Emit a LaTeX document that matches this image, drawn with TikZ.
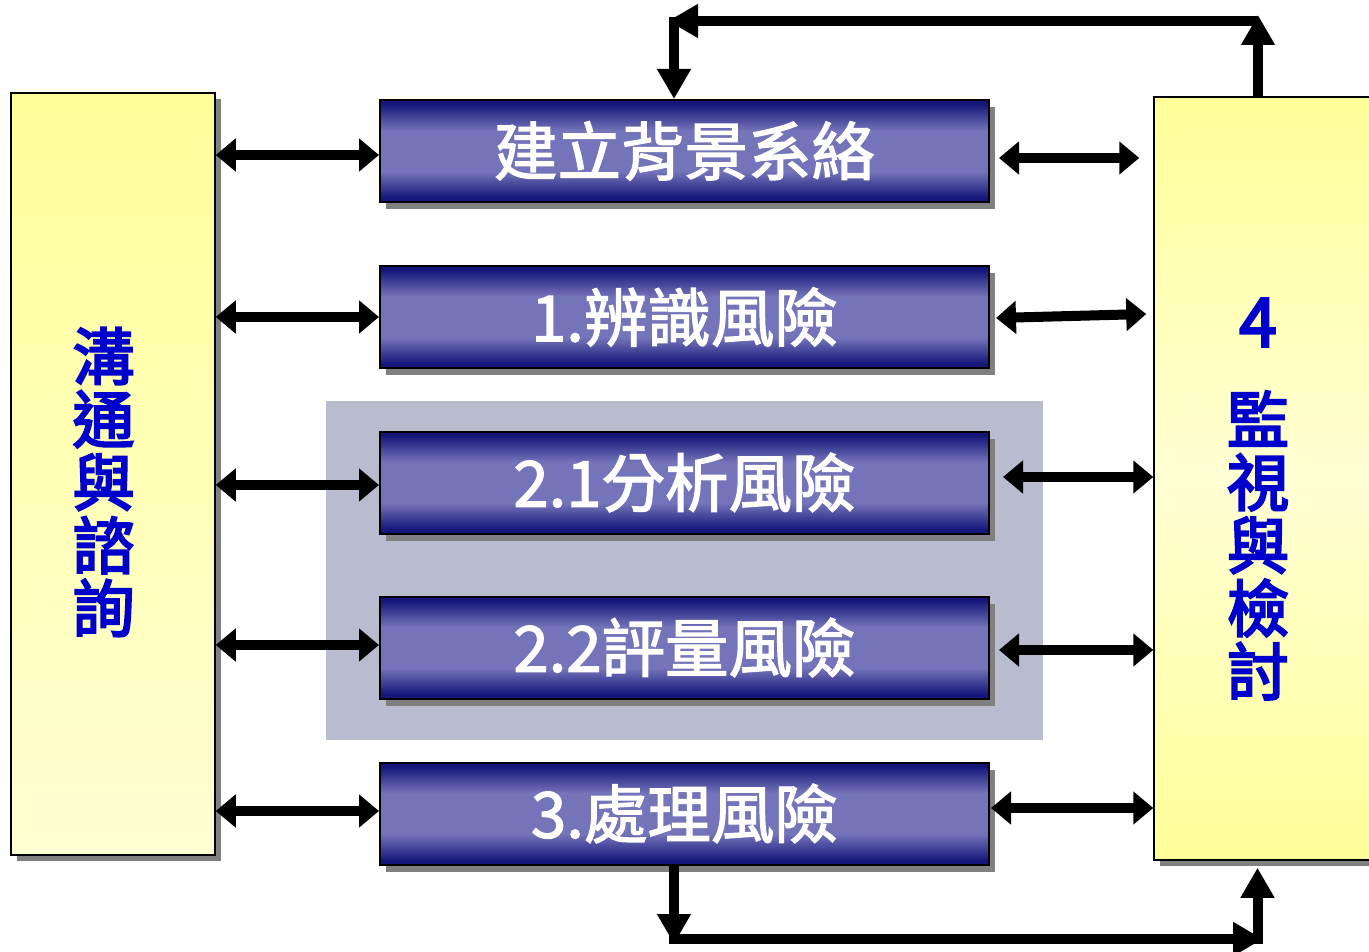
\documentclass[tikz,border=0pt]{standalone}
\usepackage{fontspec}
\setmainfont{Noto Sans CJK TC}
\newfontfamily\sidefont[FakeBold=3.5]{Noto Sans CJK TC}
\newfontfamily\stepfont[FakeBold=2]{Noto Sans CJK TC}
\usetikzlibrary{arrows.meta,calc,shadows}
\definecolor{navy}{RGB}{22,22,122}
\definecolor{midblue}{RGB}{116,116,186}
\definecolor{yel}{RGB}{255,255,153}
\definecolor{yelLight}{RGB}{255,255,212}
\definecolor{panelgray}{RGB}{185,187,206}
\definecolor{shadowgray}{RGB}{128,128,128}
\definecolor{sideblue}{RGB}{0,0,204}
\pgfdeclareverticalshading{bluebar}{100bp}{color(0bp)=(navy); color(27bp)=(navy); color(40bp)=(midblue); color(60bp)=(midblue); color(73bp)=(navy); color(100bp)=(navy)}
\pgfdeclarelayer{bg}
\pgfsetlayers{bg,main}
\tikzset{
  stepbox/.style={draw=black, line width=2pt, shade, shading=bluebar,
    minimum width=609pt, minimum height=102pt, inner sep=0pt, text=white,
    font=\stepfont\fontsize{63.5}{70}\selectfont,
    drop shadow={shadow xshift=6pt, shadow yshift=-7pt, fill=shadowgray, opacity=1}},
  sidebox/.style={draw=black, line width=1.5pt, inner sep=0pt,
    drop shadow={shadow xshift=6pt, shadow yshift=-6pt, fill=shadowgray, opacity=1}},
  sidetext/.style={align=center, inner sep=0pt, text=sideblue,
    font=\sidefont\fontsize{62}{63}\selectfont},
  panel/.style={fill=panelgray, draw=none, inner sep=0pt},
  dbl/.style={line width=10pt, {Triangle[length=20pt,width=32pt]}-{Triangle[length=20pt,width=32pt]}},
  loopar/.style={line width=10pt, -{Triangle[length=30pt,width=32pt]}},
  vconn/.style={line width=10pt}
}
\begin{document}
\begin{tikzpicture}[x=1pt,y=-1pt]
\fill[white] (0,0) rectangle (1369,952);
\useasboundingbox (0,0) rectangle (1369,952);

% panel
\node[panel, minimum width=717pt, minimum height=339pt] (P) at (684.5,570.5) {};

% side boxes
\node[sidebox, top color=yel, bottom color=yelLight, minimum width=204pt, minimum height=762pt] (L) at (113,474) {};
\node[sidebox, top color=yel, bottom color=yel, middle color=yelLight, minimum width=236pt, minimum height=763pt] (R) at (1272,478.5) {};
\node[sidetext] (Lt) at (103.5,482) {溝\\通\\與\\諮\\詢};
\node[sidetext] (Rt) at (1258,499) {{\fontsize{68}{63}\selectfont 4}\\[33pt]監\\視\\與\\檢\\討};

% step boxes
\node[stepbox] (b1) at (684.5,151) {建立背景系絡};
\node[stepbox] (b2) at (684.5,317) {1.辨識風險};
\node[stepbox] (b3) at (684.5,482.5) {2.1分析風險};
\node[stepbox] (b4) at (684.5,647.5) {2.2評量風險};
\node[stepbox] (b5) at (684.5,813.5) {3.處理風險};

% vertical connectors
\coordinate (tv) at (674,17);
\begin{pgfonlayer}{bg}
\draw[vconn] (b1.south -| tv) -- (b2.north -| tv);
\draw[vconn] (b2.south -| tv) -- (b3.north -| tv);
\draw[vconn] (b4.south -| tv) -- (b5.north -| tv);
\end{pgfonlayer}

% left double arrows
\draw[dbl] ($(L.east |- b1.west)+(0,4)$) -- ($(b1.west)+(0,4)$);
\draw[dbl] (L.east |- b2.west) -- (b2.west);
\draw[dbl] ($(L.east |- b3.west)+(0,2.5)$) -- ($(b3.west)+(0,2.5)$);
\draw[dbl] ($(L.east |- b4.west)+(0,-2.5)$) -- ($(b4.west)+(0,-2.5)$);
\draw[dbl] ($(L.east |- b5.west)+(0,-2.5)$) -- ($(b5.west)+(0,-2.5)$);

% right double arrows
\draw[dbl] ($(b1.east)+(9,7)$) -- ($(R.west |- b1.east)+(-14,7)$);
\draw[dbl] ($(b2.east)+(6,1)$) -- ($(R.west |- b2.east)+(-7,-3)$);
\draw[dbl] ($(b3.east)+(13,-5.5)$) -- ($(R.west |- b3.east)+(0,-5.5)$);
\draw[dbl] ($(b4.east)+(9,2.5)$) -- ($(R.west |- b4.east)+(0,2.5)$);
\draw[dbl] ($(b5.east)+(1,-5.5)$) -- ($(R.west |- b5.east)+(0,-5.5)$);

% top loop
\coordinate (tr) at (1258,21);
\coordinate (tl) at (668,21);
\draw[loopar] (R.north -| tr) -- ($(tr)+(0,-6)$);
\draw[loopar] (tr) -- (tl);
\draw[loopar] (tv) -- (tv |- b1.north);

% bottom loop
\coordinate (bl) at (674,939);
\coordinate (br) at (1263,939);
\coordinate (bv) at (1257.5,944);
\draw[loopar] (b5.south -| bl) -- ($(bl)+(0,5)$);
\draw[loopar] ($(bl)+(-5,0)$) -- (br);
\draw[loopar] (bv) -- ($(R.south -| bv)+(0,7)$);
\end{tikzpicture}
\end{document}
